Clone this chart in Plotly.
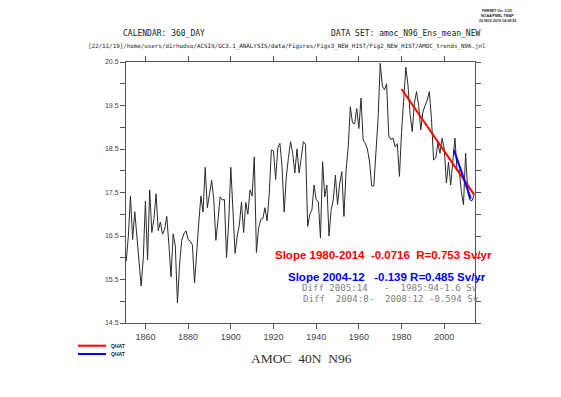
import plotly.graph_objects as go

# ---- data ----
years = list(range(1851, 2015))
amoc = [
    15.92, 16.5, 17.42, 16.42, 17.06, 16.5, 15.9, 15.35, 16.0, 17.3,
    15.95, 17.56, 16.58, 16.9, 17.47, 16.62, 16.82, 16.54, 16.65, 16.95,
    16.3, 15.56, 16.55, 16.27, 14.96, 15.85, 16.4, 16.55, 16.62, 16.42,
    16.38, 16.3, 15.42, 16.2, 16.8, 17.42, 17.05, 18.08, 17.15, 17.46,
    17.78, 17.35, 16.4, 16.87, 17.4, 17.33, 17.34, 16.0, 16.8, 18.08,
    16.9, 16.1, 16.5, 16.75, 17.28, 16.58, 17.27, 17.0, 17.56, 17.42,
    18.32, 16.12, 16.68, 16.88, 16.9, 17.15, 16.85, 17.45, 18.48, 18.45,
    17.8, 18.52, 18.63, 18.1, 17.05, 17.86, 18.3, 18.67, 18.4, 17.95,
    18.5, 17.95, 18.3, 18.67, 18.6, 16.72, 17.0, 17.1, 17.67, 17.33,
    17.29, 16.45, 18.21, 17.4, 17.67, 16.5, 17.1, 17.33, 17.9, 17.22,
    17.7, 17.98, 16.95, 18.0, 18.55, 19.47, 19.1, 19.08, 19.43, 18.97,
    19.67, 18.71, 18.63, 18.5, 18.2, 17.65, 17.65, 18.4, 19.2, 20.47,
    19.95, 19.86, 20.0, 18.8, 18.72, 18.75, 18.55, 18.62, 17.87, 18.9,
    19.8, 20.38, 19.97, 19.3, 18.9, 19.55, 19.82, 19.5, 18.94, 19.35,
    19.5, 19.62, 19.82, 19.2, 18.25, 18.29, 18.63, 18.4, 18.75, 18.5,
    17.72, 18.2, 17.67, 18.3, 18.75, 18.0, 18.02, 17.52, 17.22, 18.4,
    17.52, 17.33, 17.31, 17.45,
]

trend_long_x = [1980, 2014]
trend_long_y = [19.88, 17.45]
trend_short_x = [2004.5, 2012.4]
trend_short_y = [18.48, 17.36]

xtick_vals = [1860, 1880, 1900, 1920, 1940, 1960, 1980, 2000]
ytick_vals = [14.5, 15.0, 15.5, 16.0, 16.5, 17.0, 17.5, 18.0, 18.5, 19.0, 19.5, 20.0, 20.5]
ytick_text = ["14.5", "", "15.5", "", "16.5", "", "17.5", "", "18.5", "", "19.5", "", "20.5"]

legend_labels = ["QHAT", "QHAT"]

# ---- figure ----
fig = go.Figure()
fig.add_trace(go.Scatter(x=years, y=amoc, mode="lines",
                         line=dict(color="#2a2a2a", width=1), showlegend=False))
fig.add_trace(go.Scatter(x=trend_long_x, y=trend_long_y, mode="lines",
                         line=dict(color="#ff0000", width=2), showlegend=False))
fig.add_trace(go.Scatter(x=trend_short_x, y=trend_short_y, mode="lines",
                         line=dict(color="#0000ff", width=2), showlegend=False))

axis_common = dict(showline=True, linecolor="#555555", linewidth=1, mirror="ticks",
                   ticks="outside", ticklen=5, tickcolor="#555555", tickwidth=1,
                   showgrid=False, zeroline=False)

fig.update_xaxes(range=[1850.9, 2014.4], tickvals=xtick_vals,
                 tickfont=dict(family="Liberation Sans", size=9, color="#444444"),
                 **axis_common)
fig.update_yaxes(range=[14.5, 20.5], tickvals=ytick_vals, ticktext=ytick_text,
                 tickfont=dict(family="Liberation Sans", size=7, color="#444444"),
                 **axis_common)

def ann(text, x, y, size, color="#222222", xanchor="left", family="Liberation Sans", bold=False):
    if bold:
        text = "<b>" + text + "</b>"
    fig.add_annotation(text=text, x=x, y=y, xref="paper", yref="paper",
                       xanchor=xanchor, yanchor="middle", showarrow=False,
                       borderpad=0, font=dict(family=family, size=size, color=color))

# positions below are window pixels of the reference, converted to paper units
W, X0, H, Y0 = 349.0, 126.0, 261.0, 323.0
def px(x):
    return (x - X0) / W
def py(y):
    return (Y0 - y) / H

MONO = "DejaVu Sans Mono"

# header texts
ann("CALENDAR: 360_DAY", px(122), py(34), 8, family=MONO)
ann("DATA SET: amoc_N96_Ens_mean_NEW", px(330), py(34), 8, family=MONO)
ann("[22/11/19]/home/users/dirhodso/ACSIS/GC3.1_ANALYSIS/data/Figures/Figs3_NEW_HIST/Fig2_NEW_HIST/AMOC_trends_N96.jnl",
    px(87), py(47), 5.85, family=MONO)
ann("FERRET Ver. 6.93", px(497), py(11), 3.6, xanchor="center", bold=True)
ann("NOAA/PMEL TMAP", px(497), py(16), 3.6, xanchor="center", bold=True)
ann("22-NOV-2019 14:08:35", px(497), py(21), 3.6, xanchor="center", bold=True)

# statistics texts
ann("Slope 1980-2014  -0.0716  R=0.753 Sv/yr", px(274), py(255), 11.5, color="#ff0000", bold=True)
ann("Slope 2004-12   -0.139 R=0.485 Sv/yr", px(287), py(277), 11.5, color="#0000ff", bold=True)
ann("Diff 2005:14   -  1985:94-1.6 Sv", px(301), py(288), 9.1, color="#808080", family=MONO)
ann("Diff  2004:8-  2008:12 -0.594 Sv", px(302), py(298.5), 9.1, color="#808080", family=MONO)

# title
ann("AMOC  40N  N96", px(301), py(358), 13.5, color="#333333", xanchor="center", family="Liberation Serif")

# legend
for i, (col, yy) in enumerate([("#ff0000", 345.7), ("#0000ff", 354)]):
    fig.add_shape(type="line", xref="paper", yref="paper", x0=px(78), x1=px(106),
                  y0=py(yy), y1=py(yy), line=dict(color=col, width=2))
    ann(legend_labels[i], px(110), py(yy), 5, bold=True)

# the page body adds an 8px margin, so the figure is 8px smaller and margins shifted
fig.update_layout(width=553, height=389, autosize=False,
                  margin=dict(l=118, r=86, t=54, b=74),
                  paper_bgcolor="white", plot_bgcolor="white")

fig.write_html("out.html")
